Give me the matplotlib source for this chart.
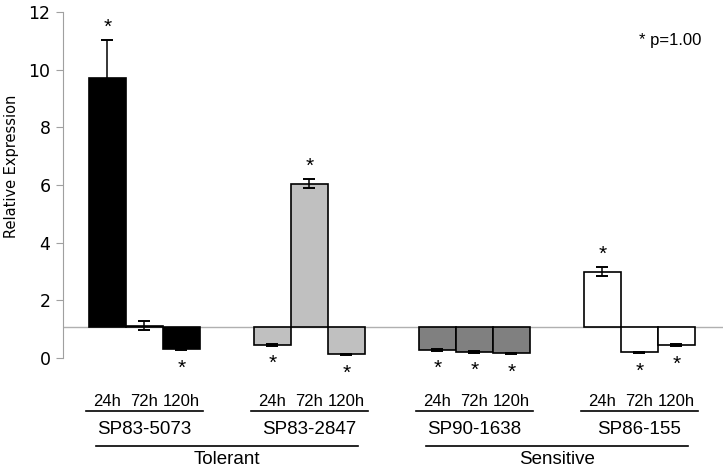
import matplotlib.pyplot as plt
from matplotlib.transforms import blended_transform_factory

strains = ["SP83-5073", "SP83-2847", "SP90-1638", "SP86-155"]
times = ["24h", "72h", "120h"]
groups = ["Tolerant", "Sensitive"]
colors = ["#000000", "#c0c0c0", "#808080", "#ffffff"]

values = [
    [9.7, 1.12, 0.32],
    [0.46, 6.05, 0.13],
    [0.29, 0.22, 0.16],
    [3.0, 0.2, 0.45],
]
errors = [
    [1.32, 0.16, 0.04],
    [0.03, 0.17, 0.02],
    [0.03, 0.03, 0.03],
    [0.16, 0.02, 0.05],
]
stars = [
    [True, False, True],
    [True, True, True],
    [True, True, True],
    [True, True, True],
]
baseline = 1.07

fig = plt.figure(figsize=(7.28, 4.72), dpi=100)
ax = fig.add_axes([63 / 728, 1 - 358 / 472, 660 / 728, 346 / 472])

step = 4.46
first = 2.2
xlab = blended_transform_factory(ax.transData, fig.transFigure)


def fy(py):
    return 1 - py / 472


for g, strain in enumerate(strains):
    center = first + g * step
    xs = [center - 1, center, center + 1]
    for i in range(3):
        v = values[g][i]
        e = errors[g][i]
        ax.bar(xs[i], v - baseline, bottom=baseline, width=1.0,
               color=colors[g], edgecolor="black", linewidth=1.2, zorder=2)
        ax.errorbar(xs[i], v, yerr=e, color="black", capsize=4.5,
                    elinewidth=1.1, capthick=1.4, zorder=3)
        if stars[g][i]:
            if v > baseline:
                ax.annotate("*", (xs[i], v + e), xytext=(0, 9),
                            textcoords="offset points", ha="center",
                            va="center", fontsize=15, family="Liberation Sans")
            else:
                ax.annotate("*", (xs[i], v - e), xytext=(0, -13),
                            textcoords="offset points", ha="center",
                            va="center", fontsize=15, family="Liberation Sans")
        ax.text(xs[i], fy(402), times[i], transform=xlab, ha="center",
                va="center", fontsize=12, family="Liberation Sans")
    ax.plot([center - 1.58, center + 1.58], [fy(411), fy(411)], color="black",
            lw=1.2, transform=xlab, clip_on=False)
    ax.text(center, fy(429), strain, transform=xlab, ha="center",
            va="center", fontsize=13.5, family="Liberation Sans")

for k, name in enumerate(groups):
    c = first + (2 * k + 0.5) * step
    ax.plot([c - 3.55, c + 3.55], [fy(446), fy(446)], color="black",
            lw=1.2, transform=xlab, clip_on=False)
    ax.text(c, fy(460), name, transform=xlab, ha="center", va="center",
            fontsize=13.5, family="Liberation Sans")

ax.axhline(baseline, color="#b0b0b0", lw=1.0, zorder=1)

ax.set_xlim(0, 660 / 37)
ax.set_ylim(0, 12)
ax.set_yticks(range(0, 13, 2))
ax.set_xticks([])
for s in ["top", "right", "bottom"]:
    ax.spines[s].set_visible(False)
ax.spines["left"].set_color("#a0a0a0")
ax.tick_params(axis="y", colors="#a0a0a0", labelcolor="black", length=5,
               labelsize=12.5, pad=4)

fig.text(12 / 728, fy(166), "Relative Expression", rotation=90, ha="center",
         va="center", fontsize=10.5, family="DejaVu Sans")
fig.text(639 / 728, fy(40), "* p=1.00", ha="left", va="center",
         fontsize=12, family="Liberation Sans")

fig.savefig("out.png", dpi=100)
